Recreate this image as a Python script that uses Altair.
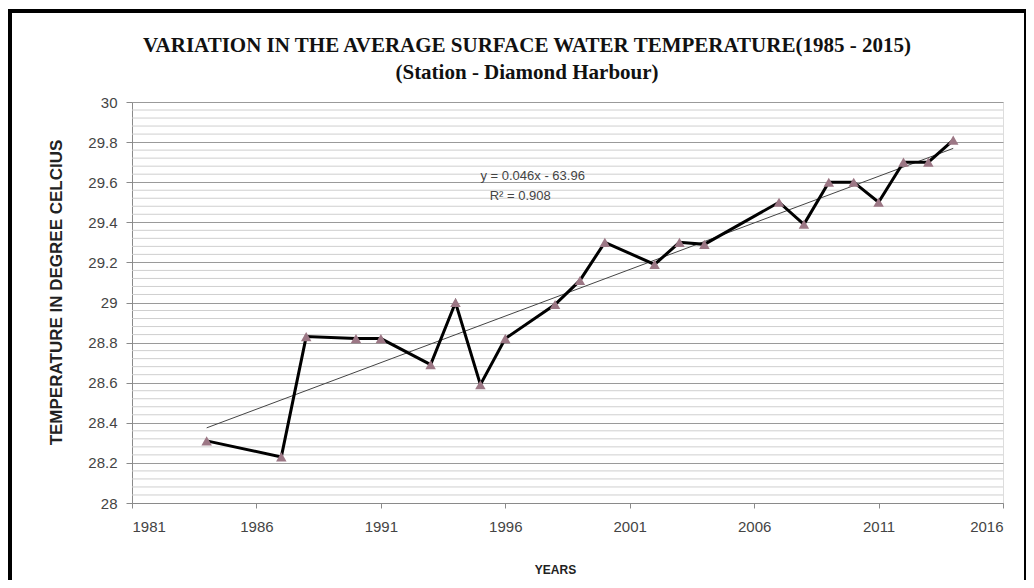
import altair as alt
import pandas as pd
import numpy as np

years = [1984, 1987, 1988, 1990, 1991, 1993, 1994, 1995, 1996, 1998, 1999, 2000,
         2002, 2003, 2004, 2007, 2008, 2009, 2010, 2011, 2012, 2013, 2014]
temps = [28.31, 28.23, 28.83, 28.82, 28.82, 28.69, 29.00, 28.59, 28.82, 28.99, 29.11, 29.30,
         29.19, 29.30, 29.29, 29.50, 29.39, 29.60, 29.60, 29.50, 29.70, 29.70, 29.81]

x_ticks = [1981, 1986, 1991, 1996, 2001, 2006, 2011, 2016]
y_ticks = [28.0, 28.2, 28.4, 28.6, 28.8, 29.0, 29.2, 29.4, 29.6, 29.8, 30.0]
minor_grid = [round(28 + 0.04 * i, 2) for i in range(51) if i % 5 != 0]

title_lines = ["VARIATION IN THE AVERAGE SURFACE WATER TEMPERATURE(1985 - 2015)",
               "(Station - Diamond Harbour)"]

eq_text = ["y = 0.046x - 63.96", "R² = 0.908"]
eq_x = [1997.1, 1996.6]
eq_y = [29.63, 29.53]

df = pd.DataFrame({"year": years, "temp": temps})
slope, intercept = np.polyfit(years, temps, 1)
trend = pd.DataFrame({"year": [years[0], years[-1]],
                      "temp": [slope * years[0] + intercept, slope * years[-1] + intercept]})
grid_df = pd.DataFrame({"v": minor_grid})
eq_df = pd.DataFrame({"t": eq_text, "x": eq_x, "y": eq_y})

xscale = alt.Scale(domain=[1981, 2016], nice=False, zero=False)
yscale = alt.Scale(domain=[28, 30], nice=False, zero=False)

x_enc = alt.X("year:Q", scale=xscale,
              axis=alt.Axis(values=x_ticks, format="d", title="YEARS", grid=False,
                            tickSize=5, labelPadding=11, titlePadding=30, titleX=423,
                            domainColor="#8a8a8a", tickColor="#8a8a8a",
                            labelFont="Liberation Sans", labelFontSize=15, labelColor="#444",
                            titleFont="Liberation Sans", titleFontSize=12, titleFontWeight="bold",
                            titleColor="#222"))
y_enc = alt.Y("temp:Q", scale=yscale,
              axis=alt.Axis(values=y_ticks, format=".1~f", title="TEMPERATURE IN DEGREE CELCIUS",
                            grid=True, gridColor="#9a9a9a", gridWidth=1,
                            tickSize=6, labelPadding=9, titlePadding=22, titleY=190,
                            domainColor="#8a8a8a", tickColor="#8a8a8a",
                            labelFont="Liberation Sans", labelFontSize=15, labelColor="#444",
                            titleFont="Liberation Sans", titleFontSize=17, titleFontWeight="bold",
                            titleColor="#222"))

minor = alt.Chart(grid_df).mark_rule(color="#cfcfcf", strokeWidth=1).encode(
    y=alt.Y("v:Q", scale=yscale))

base_line = alt.Chart(df).mark_line(color="black", strokeWidth=3).encode(x=x_enc, y=y_enc)

trend_line = alt.Chart(trend).mark_line(color="#444444", strokeWidth=1).encode(
    x=alt.X("year:Q", scale=xscale), y=alt.Y("temp:Q", scale=yscale))

points = alt.Chart(df).mark_point(shape="triangle-up", filled=True, size=110,
                                  color="#9c7785", opacity=1).encode(
    x=alt.X("year:Q", scale=xscale), y=alt.Y("temp:Q", scale=yscale))

eq = alt.Chart(eq_df).mark_text(font="Liberation Sans", fontSize=13, color="#444").encode(
    x=alt.X("x:Q", scale=xscale), y=alt.Y("y:Q", scale=yscale), text="t:N")

title_df = pd.DataFrame({"t": [title_lines[0]]})
sub_df = pd.DataFrame({"t": [title_lines[1]]})
title1 = alt.Chart(title_df).mark_text(font="Liberation Serif", fontSize=21, fontWeight="bold",
                                       color="#111", align="center", baseline="middle").encode(
    x=alt.value(395), y=alt.value(-56), text="t:N")
title2 = alt.Chart(sub_df).mark_text(font="Liberation Serif", fontSize=21, fontWeight="bold",
                                     color="#111", align="center", baseline="middle").encode(
    x=alt.value(395), y=alt.value(-29), text="t:N")

frame_df = pd.DataFrame({"a": [0]})
frame = alt.Chart(frame_df).mark_rect(fill="transparent", stroke="black", strokeWidth=4).encode(
    x=alt.value(-122), x2=alt.value(894), y=alt.value(-91), y2=alt.value(480))

chart = alt.layer(minor, trend_line, base_line, points, eq, title1, title2, frame).properties(
    width=871, height=401,
    autosize=alt.AutoSizeParams(type="none"),
    padding={"left": 124, "top": 94, "right": 23, "bottom": 77},
).configure_view(stroke="transparent").configure(background="white")

chart.save("out.html", embed_options={"renderer": "svg", "actions": False})
